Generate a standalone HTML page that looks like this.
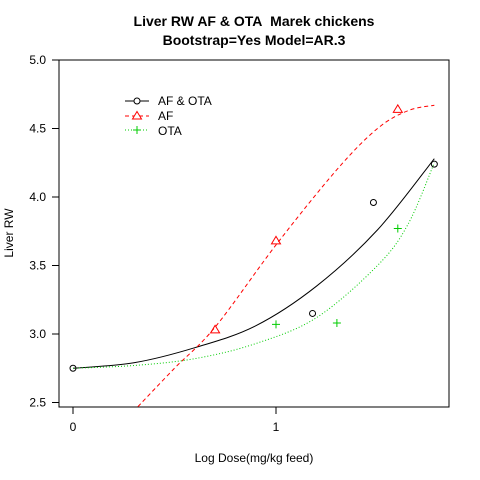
<!DOCTYPE html>
<html><head><meta charset="utf-8"><style>
html,body{margin:0;padding:0;background:#fff}
svg{display:block;font-family:"Liberation Sans",sans-serif}
</style></head><body>
<svg id="c" width="480" height="480" viewBox="0 0 480 480">
<rect width="480" height="480" fill="#fff"/>
<text x="254" y="26" text-anchor="middle" font-size="14" font-weight="bold">Liver RW AF &amp; OTA&#160; Marek chickens</text>
<text x="254" y="45" text-anchor="middle" font-size="14" font-weight="bold">Bootstrap=Yes Model=AR.3</text>
<rect x="59" y="60" width="390" height="347" fill="none" stroke="#000"/>
<text x="254" y="462" text-anchor="middle" font-size="12">Log Dose(mg/kg feed)</text>
<text transform="translate(13,233) rotate(-90)" text-anchor="middle" font-size="12">Liver RW</text>
<g id="axes"></g>
<g id="series"></g>
<g id="legend">
<line x1="125" y1="101" x2="149" y2="101" stroke="#000"/>
<circle cx="137" cy="101" r="3" fill="#fff" stroke="#000"/>
<text x="158" y="105" font-size="12">AF &amp; OTA</text>
<line x1="125" y1="116" x2="149" y2="116" stroke="#f00" stroke-dasharray="4,3"/>
<polygon points="137,111.5 141.5,119 132.5,119" fill="#fff" stroke="#f00"/>
<text x="158" y="120" font-size="12">AF</text>
<line x1="125" y1="130" x2="149" y2="130" stroke="#0c0" stroke-dasharray="1,2"/>
<path d="M133,130H141M137,126V134" stroke="#0c0"/>
<text x="158" y="135" font-size="12">OTA</text>
</g>
</svg>
<script>
const xTicks=[0,1];
const yTicks=[2.5,3.0,3.5,4.0,4.5,5.0];
const yTickLabels=["2.5","3.0","3.5","4.0","4.5","5.0"];
const afOtaX=[0,1.18,1.48,1.78];
const afOtaY=[2.75,3.15,3.96,4.24];
const afX=[0.70,1.0,1.60];
const afY=[3.03,3.68,4.64];
const otaX=[1.0,1.30,1.60];
const otaY=[3.07,3.08,3.77];
const curveAfOtaX=[0,0.3,0.6,0.9,1.2,1.5,1.78];
const curveAfOtaY=[2.75,2.79,2.9,3.06,3.35,3.76,4.28];
const curveAfX=[0.32,0.5,0.7,1.0,1.3,1.5,1.65,1.78];
const curveAfY=[2.47,2.75,3.05,3.65,4.2,4.5,4.63,4.67];
const curveOtaX=[0,0.3,0.6,0.9,1.2,1.5,1.65,1.78];
const curveOtaY=[2.75,2.77,2.82,2.93,3.12,3.5,3.8,4.25];
const NS='http://www.w3.org/2000/svg';
const sx=v=>73+v*203;
const sy=v=>402.5-(v-2.5)*137;
function mk(t,a,p){const e=document.createElementNS(NS,t);for(const k in a)e.setAttribute(k,a[k]);p.appendChild(e);return e;}
const ax=document.getElementById('axes'), se=document.getElementById('series');
xTicks.forEach((t,i)=>{
 const l=mk('line',{x1:sx(t),x2:sx(t),y1:407,y2:414,stroke:'#000'},ax);
 
 
 const tx=mk('text',{x:sx(t),y:431,'text-anchor':'middle','font-size':12},ax);tx.textContent=String(t);
 
 
});
yTicks.forEach((t,i)=>{
 const l=mk('line',{x1:52,x2:59,y1:sy(t),y2:sy(t),stroke:'#000'},ax);
 
 
 const tx=mk('text',{x:46,y:sy(t)+4,'text-anchor':'end','font-size':12},ax);tx.textContent=yTickLabels[i];
 
 
});
function spline(xs,ys){
 const p=xs.map((x,i)=>[sx(x),sy(ys[i])]);
 let d='M'+p[0][0]+','+p[0][1];
 for(let i=0;i<p.length-1;i++){
  const p0=p[i-1]||p[i],p1=p[i],p2=p[i+1],p3=p[i+2]||p2;
  const c1=[p1[0]+(p2[0]-p0[0])/6,p1[1]+(p2[1]-p0[1])/6];
  const c2=[p2[0]-(p3[0]-p1[0])/6,p2[1]-(p3[1]-p1[1])/6];
  d+=' C'+c1+' '+c2+' '+p2;
 }
 return d;
}
const cp=mk('clipPath',{id:'clip'},se);mk('rect',{x:59,y:60,width:390,height:347},cp);
const c1=mk('path',{d:spline(curveAfOtaX,curveAfOtaY),fill:'none',stroke:'#000','clip-path':'url(#clip)'},se);


const c2=mk('path',{d:spline(curveAfX,curveAfY),fill:'none',stroke:'#f00','stroke-dasharray':'4,3','clip-path':'url(#clip)'},se);


const c3=mk('path',{d:spline(curveOtaX,curveOtaY),fill:'none',stroke:'#0c0','stroke-dasharray':'1,2','clip-path':'url(#clip)'},se);


afOtaX.forEach((x,i)=>{
 const c=mk('circle',{cx:sx(x),cy:sy(afOtaY[i]),r:3,fill:'none',stroke:'#000'},se);
 
 
});
afX.forEach((x,i)=>{
 const X=sx(x),Y=sy(afY[i]);
 const p=mk('polygon',{points:`${X},${Y-4.5} ${X+4.5},${Y+3} ${X-4.5},${Y+3}`,fill:'none',stroke:'#f00'},se);
 
 
});
otaX.forEach((x,i)=>{
 const X=sx(x),Y=sy(otaY[i]);
 const p=mk('path',{d:`M${X-4},${Y}H${X+4}M${X},${Y-4}V${Y+4}`,stroke:'#0c0'},se);
 
 
});
</script>
</body></html>
